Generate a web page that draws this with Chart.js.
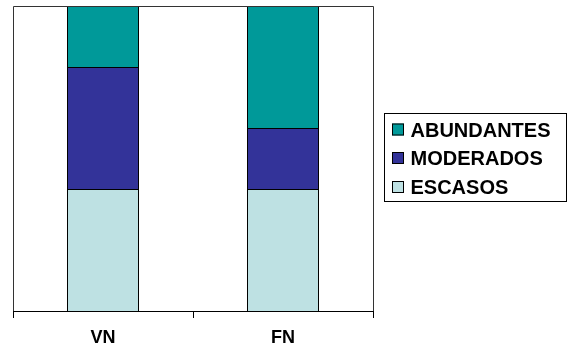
<!DOCTYPE html>
<html>
<head>
<meta charset="utf-8">
<script src="https://cdn.jsdelivr.net/npm/chart.js@4/dist/chart.umd.min.js"></script>
<style>
  html, body { margin: 0; padding: 0; background: #fff; }
  #wrap { width: 569px; height: 350px; position: relative; }
</style>
</head>
<body>
<div id="wrap"><canvas id="c" width="569" height="350"></canvas></div>
<script>
const categories = ['VN', 'FN'];
const escasos = [40, 40];
const moderados = [40, 20];
const abundantes = [20, 40];
const seriesNames = ['ESCASOS', 'MODERADOS', 'ABUNDANTES'];
const seriesColors = ['#BEE1E3', '#333399', '#009999'];

const framePlugin = {
  id: 'frame',
  afterDatasetsDraw(chart) {
    const ctx = chart.ctx;
    const a = chart.chartArea;
    ctx.save();
    ctx.strokeStyle = '#333';
    ctx.lineWidth = 1;
    ctx.beginPath();
    ctx.moveTo(Math.round(a.left) + 0.5, Math.round(a.bottom));
    ctx.lineTo(Math.round(a.left) + 0.5, Math.round(a.top) + 0.5);
    ctx.lineTo(Math.round(a.right) + 0.5, Math.round(a.top) + 0.5);
    ctx.lineTo(Math.round(a.right) + 0.5, Math.round(a.bottom));
    ctx.stroke();
    ctx.restore();
  }
};

const legendPlugin = {
  id: 'boxLegend',
  afterDraw(chart) {
    const ctx = chart.ctx;
    ctx.save();
    ctx.strokeStyle = '#000';
    ctx.lineWidth = 1;
    ctx.strokeRect(384.5, 113.5, 182, 88);
    const ds = chart.data.datasets.slice().reverse();
    const baselines = [136.5, 165, 194];
    ctx.font = 'bold 20px "Liberation Sans", Arial, sans-serif';
    ctx.textBaseline = 'alphabetic';
    ctx.textAlign = 'left';
    ds.forEach((d, i) => {
      const b = baselines[i];
      ctx.fillStyle = d.backgroundColor;
      ctx.fillRect(392, b - 13, 12, 12);
      ctx.strokeStyle = '#000';
      ctx.strokeRect(392.5, b - 12.5, 11, 11);
      ctx.fillStyle = '#000';
      ctx.fillText(d.label, 410.5, b);
    });
    ctx.restore();
  }
};

const valueSets = [escasos, moderados, abundantes];
new Chart(document.getElementById('c'), {
  type: 'bar',
  data: {
    labels: categories,
    datasets: valueSets.map((vals, i) => ({
      label: seriesNames[i],
      data: vals,
      backgroundColor: seriesColors[i],
      borderColor: '#000',
      borderWidth: 1,
      inflateAmount: 0,
      barPercentage: 0.4,
      categoryPercentage: 1.0
    }))
  },
  options: {
    responsive: false,
    animation: false,
    layout: { padding: { left: 13, top: 6, right: 196, bottom: 0 } },
    plugins: { legend: { display: false }, tooltip: { enabled: false } },
    scales: {
      x: {
        stacked: true,
        afterFit(scale) { scale.height = 39; },
        grid: { drawOnChartArea: false, offset: true, tickLength: 7, color: '#000' },
        border: { color: '#000' },
        ticks: {
          color: '#000',
          padding: 9,
          font: { family: '"Liberation Sans", Arial, sans-serif', size: 18, weight: 'bold' }
        }
      },
      y: {
        stacked: true,
        display: false,
        min: 0,
        max: 100
      }
    }
  },
  plugins: [framePlugin, legendPlugin]
});
</script>
</body>
</html>
